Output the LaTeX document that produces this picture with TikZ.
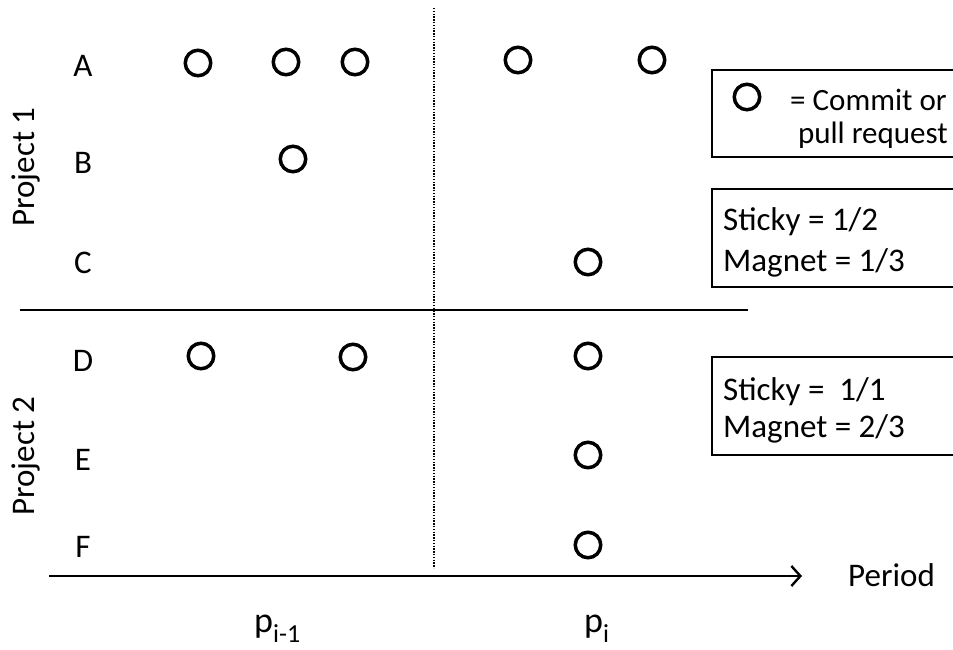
\documentclass[tikz,border=0pt]{standalone}
\usepackage{fontspec}
\setmainfont{Carlito}
\usetikzlibrary{arrows.meta}
\newcommand{\periodsub}[1]{\raisebox{-10pt}{\fontsize{26}{28}\selectfont #1}}
\begin{document}
\begin{tikzpicture}[x=1pt,y=-1pt,
  commit/.style={circle,draw,line width=3.5pt,minimum size=25.5pt,inner sep=0pt},
  lbl/.style={font=\fontsize{33}{36}\selectfont,anchor=base,inner sep=0pt},
  plbl/.style={font=\fontsize{36}{38}\selectfont,anchor=base west,inner sep=0pt},
  boxtxt/.style={font=\fontsize{33}{36}\selectfont,anchor=base west,inner sep=0pt},
  legtxt/.style={font=\fontsize{31}{34}\selectfont,inner sep=0pt},
  rule/.style={line width=2.2pt},
  frame/.style={draw,line width=1.3pt}]
\useasboundingbox (0,0) rectangle (953,649);
\clip (0,0) rectangle (953,649);

% period boundary and project separator
\coordinate (dtop) at (434,8);
\coordinate (dbot) at (434,568);
\draw[line width=1.6pt,dash pattern=on 1.4pt off 1.4pt] (dtop) -- (dbot);
\coordinate (sepL) at (20,310);
\coordinate (sepR) at (748,310);
\draw[rule] (sepL) -- (sepR);

% time axis
\coordinate (axL) at (49,576);
\coordinate (axR) at (802,576);
\draw[rule,-{Straight Barb[length=9pt,width=20pt,line width=2.4pt]}] (axL) -- (axR);
\node[lbl,anchor=base west] (period) at (848,586) {Period};
\node[plbl] (pprev) at (254,632) {p\periodsub{i-1}};
\node[plbl] (pcur) at (584,632) {p\periodsub{i}};

% project labels
\node[lbl,rotate=90] (proj1) at (34,167) {Project 1};
\node[lbl,rotate=90] (proj2) at (34,456) {Project 2};

% developers
\node[lbl] (rA) at (83,76) {A};
\node[lbl] (rB) at (83,173) {B};
\node[lbl] (rC) at (83,273) {C};
\node[lbl] (rD) at (83,371) {D};
\node[lbl] (rE) at (83,470) {E};
\node[lbl] (rF) at (83,557) {F};

% commits and pull requests
\node[commit] (a1) at (198,63) {};
\node[commit] (a2) at (286,62) {};
\node[commit] (a3) at (355,62) {};
\node[commit] (a4) at (518,60) {};
\node[commit] (a5) at (652,60) {};
\node[commit] (b1) at (293,159) {};
\node[commit] (c1) at (588,262) {};
\node[commit] (d1) at (201,356) {};
\node[commit] (d2) at (353,357) {};
\node[commit] (d3) at (588,356) {};
\node[commit] (e1) at (588,455) {};
\node[commit] (f1) at (588,545) {};

% legend
\draw[frame] (712,70) rectangle (970,157);
\node[commit] (key) at (747,97) {};
\node[legtxt,anchor=base west] (keyA) at (790,110) {= Commit or};
\node[legtxt,anchor=base east] (keyB) at (948,143) {pull request};

% metric boxes
\draw[frame] (712,189) rectangle (970,287);
\node[boxtxt] (s1) at (723,230) {Sticky = 1/2};
\node[boxtxt] (m1) at (723,271) {Magnet = 1/3};
\draw[frame] (712,357) rectangle (970,455);
\node[boxtxt] (s2) at (723,400) {Sticky = \ 1/1};
\node[boxtxt] (m2) at (723,437) {Magnet = 2/3};
\end{tikzpicture}
\end{document}
